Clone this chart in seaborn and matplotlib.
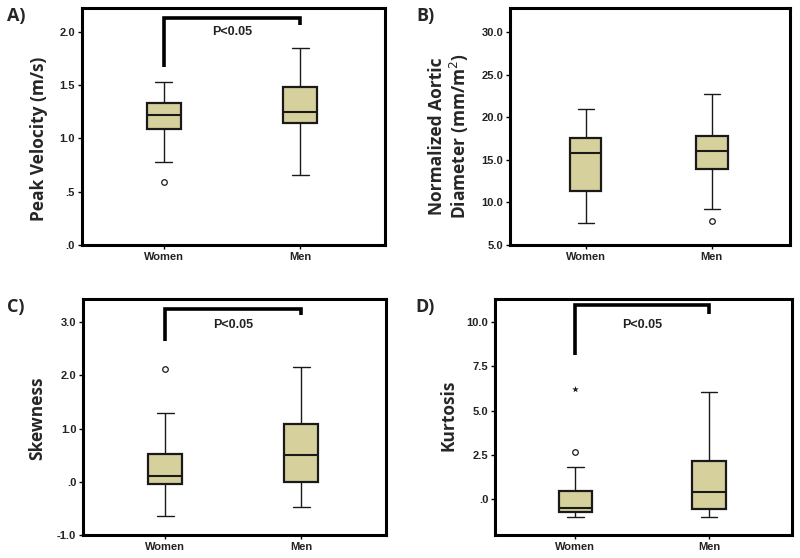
import numpy as np
import pandas as pd
import matplotlib
matplotlib.use("Agg")
import matplotlib.pyplot as plt
import seaborn as sns
from matplotlib.ticker import FuncFormatter
from matplotlib import font_manager

groups = ["Women", "Men"]

# five-number summaries per group: [low whisker, Q1, median, Q3, high whisker]
velocity_women = [0.78, 1.09, 1.22, 1.33, 1.53]
velocity_men = [0.66, 1.14, 1.25, 1.48, 1.85]
velocity_out_women = [0.59]
velocity_out_men = []

diameter_women = [7.6, 11.3, 15.8, 17.6, 21.0]
diameter_men = [9.2, 13.9, 16.0, 17.8, 22.7]
diameter_out_women = []
diameter_out_men = [7.8]

skew_women = [-0.64, -0.05, 0.11, 0.53, 1.30]
skew_men = [-0.47, -0.01, 0.51, 1.08, 2.16]
skew_out_women = [2.12]
skew_out_men = []

kurt_women = [-1.00, -0.71, -0.52, 0.45, 1.82]
kurt_men = [-1.00, -0.56, 0.38, 2.14, 6.02]
kurt_out_women = [2.67]
kurt_extreme_women = [6.24]
kurt_out_men = []

panels = [
    dict(tag="A)", ylabel="Peak Velocity (m/s)", w=velocity_women, m=velocity_men,
         ow=velocity_out_women, om=velocity_out_men, ew=[],
         ylim=(0, 2.225), ticks=[0, 0.5, 1.0, 1.5, 2.0],
         bracket=(1.67, 2.13, 2.06), ptext=2.0),
    dict(tag="B)", ylabel="Normalized Aortic\nDiameter (mm/m$^2$)", w=diameter_women, m=diameter_men,
         ow=diameter_out_women, om=diameter_out_men, ew=[],
         ylim=(5, 32.85), ticks=[5, 10, 15, 20, 25, 30], bracket=None, ptext=None),
    dict(tag="C)", ylabel="Skewness", w=skew_women, m=skew_men,
         ow=skew_out_women, om=skew_out_men, ew=[],
         ylim=(-1, 3.44), ticks=[-1, 0, 1, 2, 3],
         bracket=(2.64, 3.25, 3.13), ptext=2.95),
    dict(tag="D)", ylabel="Kurtosis", w=kurt_women, m=kurt_men,
         ow=kurt_out_women, om=kurt_out_men, ew=kurt_extreme_women,
         ylim=(-2.03, 11.32), ticks=[0, 2.5, 5, 7.5, 10],
         bracket=(8.12, 10.94, 10.43), ptext=9.85),
]

positions = [
    [0.1025, 0.561, 0.3785, 0.425],
    [0.6375, 0.561, 0.350, 0.425],
    [0.104, 0.041, 0.3785, 0.424],
    [0.619, 0.041, 0.371, 0.424],
]
tag_pos = [(0.009, 0.971), (0.520, 0.971), (0.009, 0.450), (0.519, 0.450)]
ylabel_xy = [(0.049, 0.752), (0.562, 0.756), (0.047, 0.251), (0.560, 0.256)]

sns.set_theme(style="ticks")
plt.rcParams["font.family"] = ["Open Sans", "DejaVu Sans"]
plt.rcParams["mathtext.fontset"] = "custom"

names = {f.name for f in font_manager.fontManager.ttflist}
narrow = "Liberation Sans Narrow" in names
LABELFONT = ["Liberation Sans Narrow", "Open Sans", "DejaVu Sans"] if narrow else ["Open Sans", "DejaVu Sans"]
LABELSIZE = 15 if narrow else 12.5
if narrow:
    plt.rcParams["mathtext.rm"] = "Liberation Sans Narrow:bold"
    plt.rcParams["mathtext.bf"] = "Liberation Sans Narrow:bold"

FILL = "#D6D19C"
EDGE = "#1a1a1a"
TICKFONT = ["Liberation Sans", "DejaVu Sans"]


def fmt(v, pos):
    s = f"{v:.1f}"
    if s.startswith("0."):
        s = s[1:]
    elif s.startswith("-0."):
        s = "-" + s[2:]
    return s


fig = plt.figure(figsize=(8, 5.58), dpi=100)
for i, p in enumerate(panels):
    ax = fig.add_axes(positions[i])
    w, m = p["w"], p["m"]
    # sample whose quartiles equal the summary; whiskers at min/max
    vals = [w[0], w[1], w[1], w[2], w[3], w[3], w[4]] + [m[0], m[1], m[1], m[2], m[3], m[3], m[4]]
    grp = ["Women"] * 7 + ["Men"] * 7
    df = pd.DataFrame({"group": grp, "value": vals})
    sns.boxplot(data=df, x="group", y="value", order=groups, ax=ax, whis=(0, 100),
                width=0.25, color=FILL, saturation=1, showfliers=False,
                boxprops=dict(edgecolor=EDGE, linewidth=1.6),
                medianprops=dict(color=EDGE, linewidth=1.5),
                whiskerprops=dict(color=EDGE, linewidth=1.0),
                capprops=dict(color=EDGE, linewidth=1.0))
    odf = pd.DataFrame({"group": ["Women"] * len(p["ow"]) + ["Men"] * len(p["om"]),
                        "value": p["ow"] + p["om"]})
    if len(odf):
        sns.stripplot(data=odf, x="group", y="value", order=groups, ax=ax, jitter=False,
                      marker="o", size=4, color="white", edgecolor=EDGE, linewidth=0.9)
    if p["ew"]:
        edf = pd.DataFrame({"group": ["Women"] * len(p["ew"]), "value": p["ew"]})
        sns.stripplot(data=edf, x="group", y="value", order=groups, ax=ax, jitter=False,
                      marker="*", size=5, color=EDGE, linewidth=0)
    ax.set_xlim(-0.6, 1.62)
    ax.set_ylim(*p["ylim"])
    ax.set_yticks(p["ticks"])
    ax.yaxis.set_major_formatter(FuncFormatter(fmt))
    ax.set_xlabel("")
    ax.set_ylabel("")
    for s in ax.spines.values():
        s.set_visible(True)
        s.set_linewidth(2.2)
        s.set_color("black")
    ax.tick_params(axis="both", length=3, width=1, color="black", labelsize=8, pad=2)
    for lab in ax.get_xticklabels() + ax.get_yticklabels():
        lab.set_fontweight("bold")
        lab.set_family(TICKFONT)
        lab.set_color("#222222")
    if p["bracket"]:
        lo, top, rlo = p["bracket"]
        ax.plot([0, 0, 1, 1], [lo, top, top, rlo], color="black", lw=2.6,
                solid_joinstyle="miter", solid_capstyle="butt")
        ax.text(0.5, p["ptext"], "P<0.05", ha="center", va="center", family=TICKFONT,
                fontsize=9, fontweight="bold", color="#222222")
    fig.text(tag_pos[i][0], tag_pos[i][1], p["tag"], fontsize=13, fontweight="bold",
             ha="left", va="center")
    fig.text(ylabel_xy[i][0], ylabel_xy[i][1], p["ylabel"], rotation=90, fontsize=LABELSIZE,
             fontweight="bold", family=LABELFONT, ha="center", va="center", linespacing=1.1)

fig.savefig("out.png", dpi=100)
